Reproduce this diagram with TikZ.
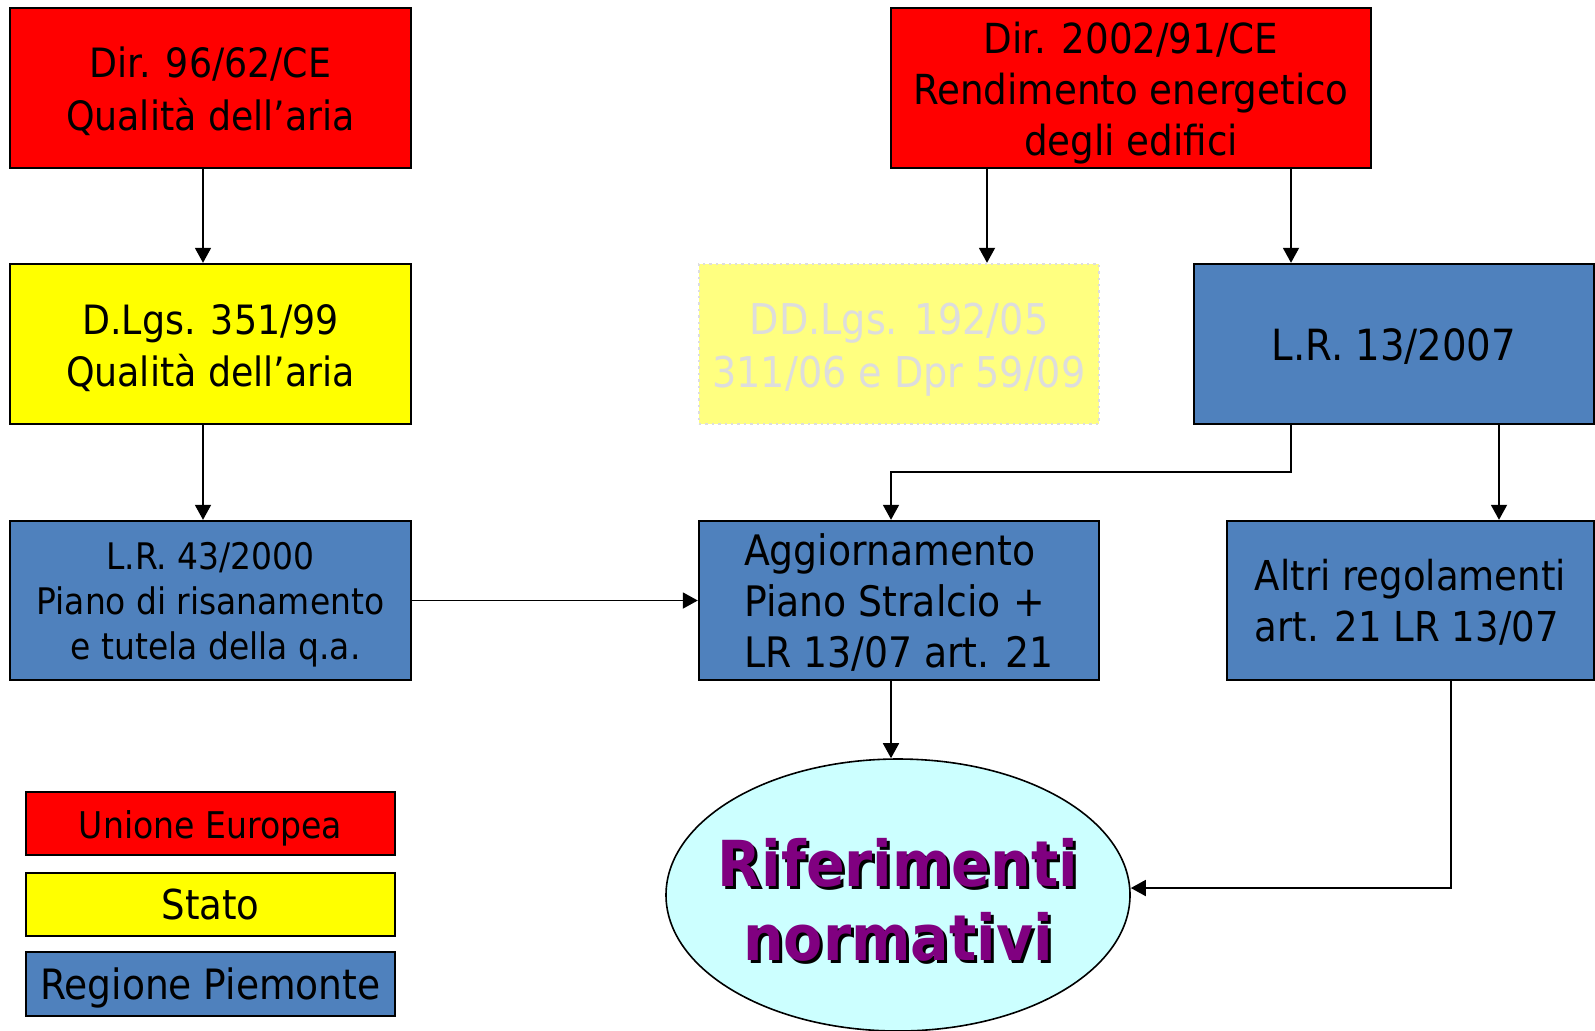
\documentclass[tikz,border=0pt]{standalone}
\usepackage{fontspec}
\setmainfont{DejaVu Sans Condensed}
\usepackage{tikz}
\usetikzlibrary{positioning, arrows.meta, shapes.geometric}
\definecolor{ueRed}{HTML}{FF0000}
\definecolor{statoYellow}{HTML}{FFFF00}
\definecolor{paleYellow}{HTML}{FFFF80}
\definecolor{regBlue}{HTML}{4F81BD}
\definecolor{fadeGrey}{HTML}{DDDDDD}
\definecolor{rifCyan}{HTML}{CCFFFF}
\definecolor{rifPurple}{HTML}{800080}
\tikzset{
  box/.style={draw, line width=1.2pt, rectangle, inner sep=0pt, align=center},
  arr/.style={-{Triangle[length=7.5pt, width=8pt]}, line width=0.9pt},
}
\newcommand{\sz}[2]{\fontsize{#1}{#2}\selectfont}
\newcommand{\dn}[2]{\raisebox{-#1}[\height][\depth]{#2}}

\begin{document}
\begin{tikzpicture}[x=0.5pt, y=-0.5pt]
            \useasboundingbox (0,0) rectangle (1595,1030);
            \node [box, fill=ueRed, minimum width=200.5pt, minimum height=80pt, font=\sz{20.2pt}{26.5pt}] (dirqa) at (210.5,88) {\dn{1.8pt}{Dir. 96/62/CE}\\\dn{1.8pt}{Qualità dell’aria}};
            \node [box, fill=ueRed, minimum width=240pt, minimum height=80pt, font=\sz{20.7pt}{25.5pt}] (direne) at (1131,88) {\dn{2.5pt}{Dir. 2002/91/CE}\\\dn{2.5pt}{Rendimento energetico}\\\dn{2.5pt}{degli edifici}};
            \node [box, fill=statoYellow, minimum width=200.5pt, minimum height=80pt, font=\sz{20.2pt}{26pt}] (dlgs) at (210.5,344) {\dn{2.2pt}{D.Lgs. 351/99}\\\dn{2.2pt}{Qualità dell’aria}};
            \node [box, draw=fadeGrey, dotted, fill=paleYellow, text=fadeGrey, minimum width=200pt, minimum height=80pt, font=\sz{21.2pt}{26.5pt}] (ddlgs) at (899,344) {\dn{3pt}{DD.Lgs. 192/05}\\\dn{3pt}{311/06 e Dpr 59/09}};
            \node [box, fill=regBlue, minimum width=200pt, minimum height=80pt, font=\sz{21.5pt}{26pt}] (lrene) at (1394,344) {\dn{1.5pt}{L.R. 13/2007}};
            \node [box, fill=regBlue, minimum width=200.5pt, minimum height=79.5pt, font=\sz{18.3pt}{22.5pt}] (lrqa) at (210.5,600.5) {\dn{2.2pt}{L.R. 43/2000}\\\dn{2.2pt}{Piano di risanamento}\\\dn{2.2pt}{\ e tutela della q.a.}};
            \node [box, fill=regBlue, minimum width=200pt, minimum height=79.5pt, align=left, font=\sz{21pt}{25.5pt}] (aggior) at (899,600.5) {\dn{1pt}{Aggiornamento}\\\dn{1pt}{Piano Stralcio +}\\\dn{1pt}{LR 13/07 art. 21}};
            \node [box, fill=regBlue, minimum width=183.5pt, minimum height=79.5pt, align=left, font=\sz{20.6pt}{25.5pt}] (altri) at (1410.5,600.5) {\dn{1pt}{Altri regolamenti}\\\dn{1pt}{art. 21 LR 13/07}};
            \node [ellipse, draw, line width=0.8pt, fill=rifCyan, minimum width=232pt, minimum height=136pt] (rif) at (898,895) {};
            \node [text=black, align=center, font=\bfseries\sz{31.7pt}{37pt}] (rifshadow) at (901,903) {Riferimenti\\normativi};
            \node [text=rifPurple, align=center, font=\bfseries\sz{31.7pt}{37pt}] (riftext) at (898,900) {Riferimenti\\normativi};

            % legenda
            \node [box, fill=ueRed, minimum width=184.5pt, minimum height=31.5pt, font=\sz{18.4pt}{22pt}] (legue) at (210.5,823.5) {\dn{2.5pt}{Unione Europea}};
            \node [box, fill=statoYellow, minimum width=184.5pt, minimum height=31.5pt, font=\sz{20.6pt}{24pt}] (legstato) at (210.5,904.5) {Stato};
            \node [box, fill=regBlue, minimum width=184.5pt, minimum height=32pt, font=\sz{20.9pt}{24pt}] (legreg) at (210.5,984) {\dn{2pt}{Regione Piemonte}};

            \coordinate (xl) at (203,0);
            \coordinate (xm) at (987,0);
            \coordinate (xr) at (1291,0);
            \coordinate (xa) at (891,0);
            \coordinate (xo) at (1499,0);
            \coordinate (xd) at (1451,0);
            \coordinate (yh) at (0,472);
            \coordinate (yl) at (0,888);
            \draw[arr] (dirqa.south -| xl) -- (dlgs.north -| xl);
            \draw[arr] (dlgs.south -| xl) -- (lrqa.north -| xl);
            \draw[arr] (direne.south -| xm) -- (ddlgs.north -| xm);
            \draw[arr] (direne.south -| xr) -- (lrene.north -| xr);
            \draw[arr] (lrene.south -| xr) |- (yh -| xa) -- (aggior.north -| xa);
            \draw[arr] (lrene.south -| xo) -- (altri.north -| xo);
            \draw[arr] (lrqa.east) -- (aggior.west);
            \draw[arr] (aggior.south -| xa) -- (rif.north -| xa);
            \draw[arr] (altri.south -| xd) |- (rif.east |- yl);
        \end{tikzpicture}
\end{document}
